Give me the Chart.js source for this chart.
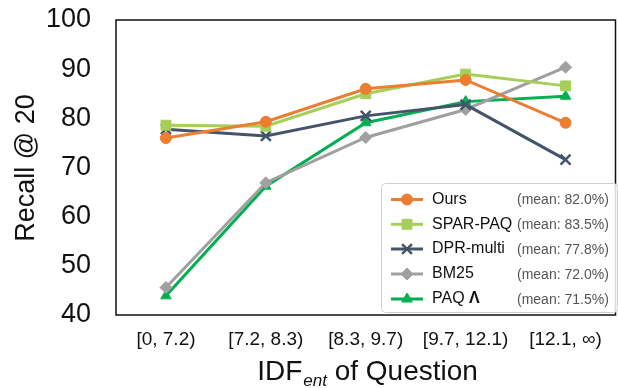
<!DOCTYPE html>
<html>
<head>
<meta charset="utf-8">
<script src="https://cdn.jsdelivr.net/npm/chart.js@4"></script>
<style>
  html, body { margin: 0; padding: 0; background: #fff; overflow: hidden; }
  #wrap { width: 625px; height: 388px; position: relative; }
</style>
</head>
<body>
<div id="wrap"><canvas id="chart"></canvas></div>
<script>
// categorías del eje x (intervalos de IDF)
const bins = ['[0, 7.2)', '[7.2, 8.3)', '[8.3, 9.7)', '[9.7, 12.1)', '[12.1, ∞)'];

// Recall@20 por método
const ours    = [76.0, 79.3, 86.0, 87.8, 79.1];
const sparPaq = [78.6, 78.4, 85.0, 89.0, 86.6];
const dprMulti = [77.8, 76.4, 80.5, 82.8, 71.6];
const bm25    = [45.6, 66.9, 76.1, 81.8, 90.4];
const paq     = [43.9, 66.2, 79.1, 83.4, 84.5];

const names = ['Ours', 'SPAR-PAQ', 'DPR-multi', 'BM25', 'PAQ'];
const means = ['(mean: 82.0%)', '(mean: 83.5%)', '(mean: 77.8%)', '(mean: 72.0%)', '(mean: 71.5%)'];
const yTicks = [40, 50, 60, 70, 80, 90, 100];

const FONT = 'Arial, "Liberation Sans", sans-serif';

const series = [
  { label: names[0], data: ours,     color: '#ED7D31', style: 'circle',   r: 5.5, bw: 1 },
  { label: names[1], data: sparPaq,  color: '#A6CF5A', style: 'rect',     r: 7,   bw: 1 },
  { label: names[2], data: dprMulti, color: '#44546A', style: 'crossRot', r: 7,   bw: 2.5 },
  { label: names[3], data: bm25,     color: '#A0A0A0', style: 'rectRot',  r: 6,   bw: 1 },
  { label: names[4], data: paq,      color: '#00B050', style: 'triangle', r: 6,   bw: 1 },
];

// marco, títulos y leyenda (columna de medias alineada)
const decor = {
  id: 'decor',
  afterDatasetsDraw(chart) {
    const { ctx, chartArea: a } = chart;
    ctx.save();
    ctx.strokeStyle = '#111';
    ctx.lineWidth = 1.5;
    ctx.strokeRect(a.left, a.top, a.right - a.left, a.bottom - a.top);

    // título eje y
    ctx.fillStyle = '#111';
    ctx.font = `27px ${FONT}`;
    ctx.textAlign = 'center';
    ctx.textBaseline = 'middle';
    ctx.translate(27, 168);
    ctx.rotate(-Math.PI / 2);
    ctx.fillText('Recall @ 20', 0, 0);
    ctx.restore();

    // título eje x con subíndice
    ctx.save();
    ctx.fillStyle = '#111';
    ctx.textBaseline = 'alphabetic';
    ctx.textAlign = 'left';
    const base = 380;
    ctx.font = `28px ${FONT}`;
    const w1 = ctx.measureText('IDF').width;
    const w3 = ctx.measureText(' of Question').width;
    ctx.font = `italic 17px ${FONT}`;
    const w2 = ctx.measureText('ent').width;
    let x = 367 - (w1 + w2 + w3) / 2;
    ctx.font = `28px ${FONT}`;
    ctx.fillText('IDF', x, base);
    x += w1 + 1;
    ctx.font = `italic 17px ${FONT}`;
    ctx.fillText('ent', x, base + 6);
    x += w2;
    ctx.font = `28px ${FONT}`;
    ctx.fillText(' of Question', x, base);
    ctx.restore();

    // leyenda
    ctx.save();
    const bx = 381, by = 183, bw = 236, bh = 129;
    ctx.fillStyle = 'rgba(255,255,255,0.85)';
    ctx.strokeStyle = '#cfcfcf';
    ctx.lineWidth = 1;
    ctx.beginPath();
    ctx.roundRect(bx + 0.5, by + 0.5, bw, bh, 4);
    ctx.fill();
    ctx.stroke();
    const rowY = [199.5, 224.3, 249, 274, 299];
    series.forEach((s, i) => {
      const y = rowY[i];
      ctx.strokeStyle = s.color;
      ctx.lineWidth = 3;
      ctx.beginPath();
      ctx.moveTo(391, y);
      ctx.lineTo(423, y);
      ctx.stroke();
      ctx.fillStyle = s.color;
      ctx.strokeStyle = s.color;
      ctx.lineWidth = s.bw;
      Chart.helpers.drawPoint(ctx, { pointStyle: s.style, radius: s.r, rotation: 0, borderWidth: s.bw }, 407, y);
      ctx.fillStyle = '#111';
      ctx.textBaseline = 'middle';
      ctx.textAlign = 'left';
      ctx.font = `16px ${FONT}`;
      ctx.fillText(s.label, 432, y);
      if (i === 4) {
        const pw = ctx.measureText('PAQ ').width;
        ctx.font = `bold 16px ${FONT}`;
        ctx.fillText('Λ', 432 + pw, y);
      }
      ctx.fillStyle = '#555';
      ctx.font = `14px ${FONT}`;
      ctx.fillText(means[i], 517, y + 1);
    });
    ctx.restore();
  }
};

new Chart(document.getElementById('chart'), {
  type: 'line',
  data: {
    labels: bins,
    datasets: series.map(s => ({
      label: s.label,
      data: s.data,
      borderColor: s.color,
      backgroundColor: s.color,
      borderWidth: 3,
      pointStyle: s.style,
      pointRadius: s.r,
      pointBorderWidth: s.bw,
      pointBorderColor: s.color,
      pointBackgroundColor: s.color,
      tension: 0,
    })),
  },
  options: {
    responsive: true,
    maintainAspectRatio: false,
    animation: false,
    devicePixelRatio: 1,
    layout: { padding: { top: 20, right: 3.5, left: 0, bottom: 0 } },
    plugins: { legend: { display: false }, tooltip: { enabled: false } },
    scales: {
      x: {
        offset: true,
        grid: { display: false, drawTicks: false },
        border: { display: false },
        ticks: { color: '#111', font: { family: FONT, size: 19 }, padding: 13, maxRotation: 0, autoSkip: false },
        afterFit(scale) { scale.height = 73; scale.paddingLeft = 0; scale.paddingRight = 0; },
      },
      y: {
        min: 40, max: 100,
        grid: { display: false, drawTicks: false },
        border: { display: false },
        afterBuildTicks(scale) { scale.ticks = yTicks.map(v => ({ value: v })); },
        ticks: { color: '#111', font: { family: FONT, size: 27 }, padding: 25 },
        afterFit(scale) { scale.width = 116; scale.paddingTop = 0; scale.paddingBottom = 0; },
      },
    },
  },
  plugins: [decor],
});
</script>
</body>
</html>
